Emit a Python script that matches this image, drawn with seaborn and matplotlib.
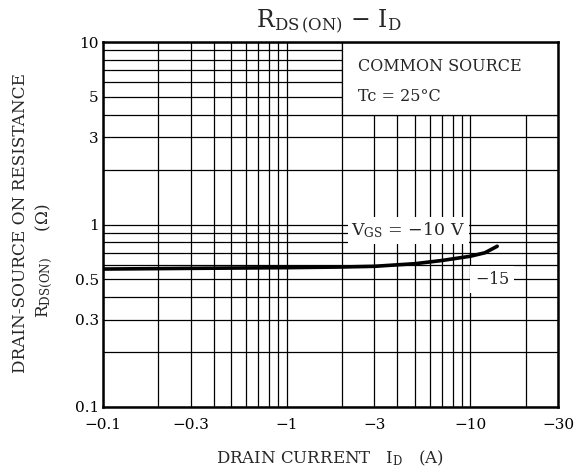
import matplotlib
matplotlib.use("Agg")
import matplotlib.pyplot as plt
import seaborn as sns
import pandas as pd
import numpy as np
from matplotlib.patches import Rectangle

# data (|I_D| in A, R_DS(ON) in ohm)
id_abs = [0.1, 0.3, 1, 2, 3, 5, 7, 10, 12, 14]
rds_on = [0.57, 0.575, 0.58, 0.585, 0.59, 0.61, 0.635, 0.67, 0.70, 0.76]
x_ticks = [0.1, 0.3, 1, 3, 10, 30]
x_tick_labels = ["\u22120.1", "\u22120.3", "\u22121", "\u22123", "\u221210", "\u221230"]
y_ticks = [0.1, 0.3, 0.5, 1, 3, 5, 10]
y_tick_labels = ["0.1", "0.3", "0.5", "1", "3", "5", "10"]

sns.set_style("white")
plt.rcParams["font.family"] = ["DejaVu Serif"]
plt.rcParams["mathtext.fontset"] = "dejavuserif"

W, H = 586, 472
fig = plt.figure(figsize=(W / 100, H / 100), dpi=100)
ax = fig.add_axes([103 / W, 1 - 407 / H, (558 - 103) / W, (407 - 42) / H])

df = pd.DataFrame({"id": id_abs, "rds": rds_on})
sns.lineplot(data=df, x="id", y="rds", ax=ax, color="black", lw=2.6, zorder=5)

ax.set_xscale("log")
ax.set_yscale("log")
ax.set_xlim(0.1, 30)
ax.set_ylim(0.1, 10)
ax.set_xlabel("")
ax.set_ylabel("")

# grid lines at 1..9 per decade
xg = [m * 10.0**e for e in (-1, 0, 1) for m in range(1, 10) if 0.1 <= m * 10.0**e <= 30]
yg = [m * 10.0**e for e in (-1, 0) for m in range(1, 10)] + [10]
for v in xg:
    ax.axvline(v, color="black", lw=0.9, zorder=1)
for v in yg:
    ax.axhline(v, color="black", lw=0.9, zorder=1)

ax.set_xticks(x_ticks)
ax.set_xticklabels(x_tick_labels)
ax.set_yticks(y_ticks)
ax.set_yticklabels(y_tick_labels)
ax.xaxis.set_minor_locator(matplotlib.ticker.NullLocator())
ax.yaxis.set_minor_locator(matplotlib.ticker.NullLocator())
ax.tick_params(axis="both", length=0, labelsize=11, colors="black")
ax.tick_params(axis="x", pad=8)
ax.tick_params(axis="y", pad=3)

for s in ax.spines.values():
    s.set_visible(True)
    s.set_color("black")
    s.set_linewidth(1.8)
    s.set_zorder(6)

# white box for condition text
ax.add_patch(Rectangle((2, 4), 28, 6, facecolor="white", edgecolor="black", lw=0.9, zorder=3))
ax.text(2.45, 7.3, "COMMON SOURCE", fontsize=11.5, va="center", ha="left", zorder=4)
ax.text(2.45, 5.05, "Tc = 25\u00b0C", fontsize=11.5, va="center", ha="left", zorder=4)

ax.text(4.6, 0.93, r"V$_{\mathrm{GS}}$ = $-$10 V", fontsize=12.5, ha="center", va="center",
        zorder=4, bbox=dict(facecolor="white", edgecolor="none", pad=2.5))
ax.text(13.1, 0.5, r"$-$15", fontsize=11.5, ha="center", va="center",
        zorder=4, bbox=dict(facecolor="white", edgecolor="none", pad=3.5))

fig.text(329 / W, 1 - 22 / H, r"R$_{\mathrm{DS\,(ON)}}$ $-$ I$_{\mathrm{D}}$",
         fontsize=17, ha="center", va="center")
fig.text(330 / W, 1 - 458 / H, r"DRAIN CURRENT   I$_{\mathrm{D}}$   (A)",
         fontsize=12, ha="center", va="center")
fig.text(21 / W, 1 - 223 / H, "DRAIN-SOURCE ON RESISTANCE",
         fontsize=12.2, ha="center", va="center", rotation=90)
fig.text(44 / W, 1 - 261 / H, r"R$_{\mathrm{DS(ON)}}$     ($\Omega$)",
         fontsize=12.2, ha="center", va="center", rotation=90)

fig.savefig("out.png", dpi=100)
